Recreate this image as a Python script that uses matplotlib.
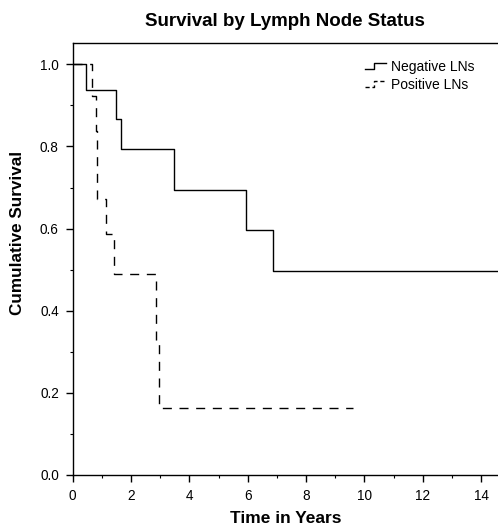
import matplotlib
matplotlib.use("Agg")
import matplotlib.pyplot as plt
from matplotlib.lines import Line2D
from matplotlib.ticker import MultipleLocator

plt.rcParams['font.family'] = ['Liberation Sans', 'DejaVu Sans']

# Data
neg_times = [0.0, 0.47, 1.47, 1.66, 3.48, 5.93, 6.88, 14.6]
neg_surv = [1.0, 0.938, 0.866, 0.794, 0.695, 0.596, 0.496, 0.496]
pos_times = [0.0, 0.65, 0.79, 0.84, 1.13, 1.42, 2.86, 2.97, 9.62]
pos_surv = [1.0, 0.923, 0.838, 0.672, 0.588, 0.490, 0.327, 0.163, 0.163]
series_labels = ["Negative LNs", "Positive LNs"]
x_ticks = [0, 2, 4, 6, 8, 10, 12, 14]
y_ticks = [0.0, 0.2, 0.4, 0.6, 0.8, 1.0]

DASH = (0, (6.5, 5.5))


class StepHandler:
    def __init__(self, ls):
        self.ls = ls

    def legend_artist(self, legend, orig_handle, fontsize, handlebox):
        x0, y0 = handlebox.xdescent, handlebox.ydescent
        w, h = handlebox.width, handlebox.height
        xs = [x0, x0 + w * 0.45, x0 + w * 0.45, x0 + w]
        ys = [y0 + h * 0.2, y0 + h * 0.2, y0 + h * 0.8, y0 + h * 0.8]
        line = Line2D(xs, ys, color='black', lw=1.0, linestyle=self.ls,
                      transform=handlebox.get_transform())
        handlebox.add_artist(line)
        return line


fig = plt.figure(figsize=(4.98, 5.30), dpi=100)
ax = fig.add_axes([72.7 / 498, 1 - 475 / 530, 1 - 72.7 / 498, (475 - 43) / 530])

l1, = ax.step(neg_times, neg_surv, where='post', color='black', lw=1.0)
l2, = ax.step(pos_times, pos_surv, where='post', color='black', lw=1.0,
              linestyle=DASH)

ax.set_xlim(0, 14.58)
ax.set_ylim(0, 1.052)
ax.set_xticks(x_ticks)
ax.set_yticks(y_ticks)
ax.set_yticklabels([f"{v:.1f}" for v in y_ticks])
ax.xaxis.set_minor_locator(MultipleLocator(1))
ax.yaxis.set_minor_locator(MultipleLocator(0.1))
ax.tick_params(which='major', direction='out', length=5, width=1.0, labelsize=9.8, pad=5)
ax.tick_params(which='minor', direction='out', length=2.5, width=0.8)
ax.spines['right'].set_visible(False)
for s in ['left', 'bottom', 'top']:
    ax.spines[s].set_linewidth(1.0)

ax.set_title("Survival by Lymph Node Status", fontsize=13.5, fontweight='bold', pad=12)
ax.set_xlabel("Time in Years", fontsize=12.5, fontweight='bold', labelpad=6)
ax.set_ylabel("Cumulative Survival", fontsize=12.3, fontweight='bold')
ax.yaxis.set_label_coords(-0.113, 0.56)

leg = ax.legend([l1, l2], series_labels, loc='upper right',
                bbox_to_anchor=(0.975, 0.99), frameon=False, fontsize=10,
                handlelength=1.5, handletextpad=0.4, labelspacing=0.3,
                handler_map={l1: StepHandler('-'), l2: StepHandler((0, (3, 2)))})

fig.savefig("out.png", dpi=100)
